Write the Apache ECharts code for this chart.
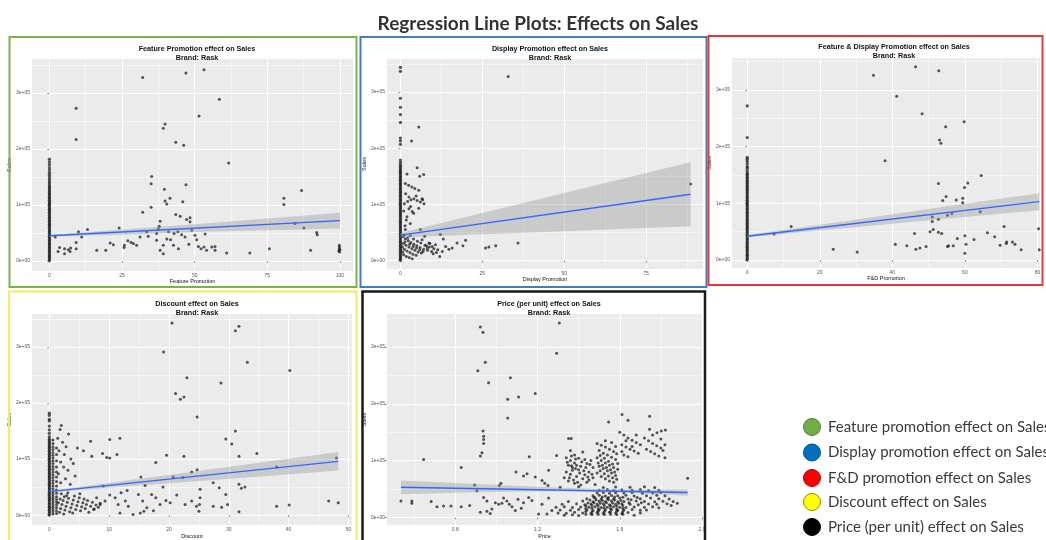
<!DOCTYPE html>
<html><head><meta charset="utf-8">
<script src="https://cdn.jsdelivr.net/npm/echarts/dist/echarts.min.js"></script>
<style>html,body{margin:0;padding:0;background:#fff}#c{width:1046px;height:540px}</style>
</head><body><div id="c"></div><script>
// ---------------- DATA ----------------
const mainTitle = 'Regression Line Plots: Effects on Sales';
const panelTitles = [
  'Feature Promotion effect on Sales\nBrand: Rask',
  'Display Promotion effect on Sales\nBrand: Rask',
  'Feature & Display Promotion effect on Sales\nBrand: Rask',
  'Discount effect on Sales\nBrand: Rask',
  'Price (per unit) effect on Sales\nBrand: Rask'
];
const xAxisNames = ['Feature Promotion', 'Display Promotion', 'F&D Promotion', 'Discount', 'Price'];
const yAxisName = 'Sales';
const legendLabels = ['Feature promotion effect on Sales', 'Display promotion effect on Sales', 'F&D promotion effect on Sales', 'Discount effect on Sales', 'Price (per unit) effect on Sales'];

const yTickValues = [0, 100000, 200000, 300000];
const yTickLabels = ['0e+00', '1e+05', '2e+05', '3e+05'];
const yMinorValues = [50000, 150000, 250000, 350000];

const featureTicks = [0, 25, 50, 75, 100];
const featureMinor = [12.5, 37.5, 62.5, 87.5];
const displayTicks = [0, 25, 50, 75];
const displayMinor = [12.5, 37.5, 62.5, 87.5];
const fdTicks = [0, 20, 40, 60, 80];
const fdMinor = [10, 30, 50, 70];
const discountTicks = [0, 10, 20, 30, 40, 50];
const discountMinor = [5, 15, 25, 35, 45];
const priceTicks = [0.8, 1.2, 1.6, 2.0];
const priceTickLabels = ['0.8', '1.2', '1.6', '2.0'];
const priceMinor = [0.6, 1.0, 1.4, 1.8];

// Feature promotion
const featureZeroSales = [1000,3500,6500,9000,11500,14500,17000,19500,22500,25000,28000,30500,33000,36000,38500,41000,44000,46500,49500,52000,54500,57500,60000,63000,65500,68000,71000,73500,76500,79000,81500,84500,87000,90000,92500,95000,98000,100500,103000,106000,108500,111500,114000,117000,119500,122000,125000,127500,130500,133000,136000,139500,143000,147000,151000,155000,158500,163000,167000,172000,177000,182000];
const featurePoints = [[9.2,273000],[9.2,217000],[32.1,328000],[47.0,336000],[53.2,342000],[58.5,289000],[51.5,259000],[39.8,245000],[39.2,237000],[43.5,212000],[46.2,207000],[61.7,175000],[35.2,151000],[35.0,138000],[47.0,136000],[39.6,128000],[41.5,112000],[39.8,107000],[40.4,102000],[45.9,106000],[32.1,87000],[35.0,96000],[43.5,83000],[45.0,80000],[48.4,77000],[48.4,70000],[38.1,71000],[37.8,62000],[47.2,74000],[80.7,112000],[80.7,101000],[86.8,126000],[2.0,43000],[10.0,52000],[13.1,56000],[24.0,59000],[11.1,43000],[20.9,32000],[16.3,19000],[19.4,19000],[5.2,22000],[5.2,13000],[6.5,20000],[7.1,17000],[7.3,23000],[9.2,33000],[9.2,22000],[25.8,28000],[25.7,24000],[28.1,33000],[28.9,31000],[30.0,28000],[31.2,43000],[33.5,52000],[36.9,37000],[36.9,49000],[37.5,57000],[38.1,19000],[39.2,13000],[39.2,28000],[40.4,39000],[41.0,52000],[41.7,38000],[42.7,28000],[42.9,49000],[44.2,52000],[44.4,22000],[46.7,43000],[49.0,55000],[50.1,46000],[50.7,38000],[51.3,26000],[52.2,22000],[53.2,25000],[54.1,19000],[53.6,48000],[55.9,25000],[57.0,19000],[57.0,26000],[61.0,14000],[69.0,14000],[75.7,22000],[84.5,67000],[87.6,59000],[89.9,19000],[92.0,51000],[92.2,47000],[99.8,28000],[99.8,25000],[99.8,22000],[99.6,18000],[99.9,16000],[100,20000],[3.5,24000],[3.0,17000],[27.0,36000],[22.0,29000],[34.0,44000],[48.0,30000],[45.5,47000]];
const featureFit = [[0,45000],[100,72000]];
const featureBand = [[0,43500,46500],[25,47000,56000],[50,51500,65500],[75,55000,76000],[100,58000,86000]];

// Display promotion
const displayZeroSales = [500,3000,5500,8500,11000,13500,16500,19000,21500,24500,27000,30000,32500,35000,38000,40500,43000,46000,48500,51500,54000,56500,59500,62000,65000,67500,70000,73000,75500,78500,81000,83500,86500,89000,92000,94500,97000,100000,102500,105500,108000,110500,113500,116000,119000,121500,124000,127000,129500,132500,135000,137500,140500,143000,146000,148500,151000,154000,156500,159000,162000,165000,168000,171000,175000,179000,207000,213000,218000,246000,260000,273000,289000,337000,344000];
const displayPoints = [[32.9,328000],[5.6,238000],[3.4,213000],[5.1,165000],[7.1,153000],[5.9,150000],[2.0,154000],[88.6,136000],[35.9,31000],[29.1,26000],[27.0,24000],[26.0,22000],[19.9,36000],[19.1,26000],[17.3,31000],[15.8,22000],[14.8,20000],[13.8,25000],[13.1,38000],[12.2,46000],[12.0,7000],[10.7,28000],[9.7,25000],[8.7,31000],[8.2,22000],[7.4,43000],[6.6,37000],[6.1,55000],
[1.5,137000],[2.5,134000],[3.5,131000],[4.4,128000],[5.6,125000],[1.6,119000],[2.6,113000],[4.1,110000],[5.1,107000],[6.6,110000],[6.1,104000],[3.1,96000],[3.6,87000],[2.0,78000],[3.0,66000],[1.5,55000],[1.2,101000],[2.2,105000],[3.2,108000],[4.8,115000],[6.8,108000],[7.2,101000],[1.0,88000],[1.8,72000],[2.6,92000],[4.0,84000],[1.4,62000],[5.6,93000],
[0.8,42000],[1.5,38000],[2.4,35000],[3.2,32000],[4.1,29000],[5.0,26000],[6.0,23000],[7.1,20000],[8.3,18000],[9.5,16000],[0.9,30000],[1.7,27000],[2.6,24000],[3.5,21000],[4.4,18000],[5.4,15000],[6.4,13000],[1.2,20000],[2.0,17000],[2.9,14000],[3.8,11000],[4.8,9000],[1.0,10000],[1.8,7000],[2.7,5000],[3.6,3000],[0.7,15000],[1.4,33000],[2.2,40000],[3.0,44000],[4.0,38000],[5.2,34000],[6.2,31000],[7.5,27000],[8.8,24000],[10.2,21000],[11.4,19000],[12.8,16000],[0.6,24000],[1.1,45000],[2.8,29000],[3.9,25000],[4.9,22000],[5.9,19000],[6.9,16000],[7.9,26000],[9.0,30000],[10.0,12000],[11.0,14000]];
const displayFit = [[0,45000],[88.6,118000]];
const displayBand = [[0,41000,49000],[25,46600,84600],[50,52200,120200],[75,57800,155800],[88.6,61000,175000]];

// Feature & Display promotion
const fdZeroSales = [500,3000,6000,8500,11000,14000,16500,19000,22000,24500,27500,30000,32500,35500,38000,41000,43500,46000,49000,51500,54500,57000,59500,62500,65000,68000,70500,73000,76000,78500,81500,84000,86500,89500,92000,95000,97500,100000,103000,105500,108500,111000,113500,116500,119000,122000,124500,127000,130000,132500,135500,138000,140500,143500,146000,149000,151500,154000,158000,162000,165000,169500,174000,178000,181000,216000,272000];
const fdPoints = [[34.8,326000],[46.4,341000],[52.8,334000],[41.2,289000],[48.2,258000],[59.8,244000],[54.7,235000],[53.0,212000],[53.4,206000],[38.0,175000],[64.5,149000],[52.7,135000],[60.8,136000],[59.9,128000],[54.8,112000],[53.9,105000],[57.6,106000],[59.4,109000],[59.4,101000],[64.2,85000],[56.4,82000],[55.2,79000],[51.0,76000],[51.0,68000],[52.7,72000],[12.1,59000],[7.4,46000],[23.7,19000],[30.3,14000],[40.8,28000],[44.0,25000],[46.1,47000],[46.5,19000],[47.6,21000],[49.3,24000],[50.4,50000],[51.3,54000],[52.7,49000],[53.6,47000],[55.2,24000],[55.5,25000],[56.8,25000],[57.9,38000],[60.0,43000],[60.3,28000],[60.0,12000],[62.5,36000],[66.2,48000],[68.2,41000],[69.7,26000],[70.8,59000],[71.4,29000],[71.5,32000],[73.1,32000],[73.8,28000],[75.5,18000],[80.3,55000],[80.5,18000]];
const fdFit = [[0,42000],[80.5,103000]];
const fdBand = [[0,40000,44000],[20,52000,62400],[40,63800,80800],[60,75800,99200],[80.5,88000,118000]];

// Discount
const discountZeroSales = [500,3000,6000,8500,11500,14000,16500,19500,22000,25000,27500,30000,33000,35500,38500,41000,43500,46500,49000,52000,54500,57000,60000,62500,65500,68000,70500,73500,76000,79000,81500,84000,87000,89500,92500,95000,97500,100500,103000,106000,108500,111000,114000,116500,119500,122000,124500,127500,130000,133000,135500,140000,146000,152000,159000,168000,171000,178000,182000];
const discountPoints = [[0.6,2000],[0.6,6000],[0.6,10000],[0.6,14000],[0.6,18000],[0.6,22000],[0.6,26000],[0.6,30000],[0.6,34000],[0.6,38000],[0.6,42000],[0.6,47000],[0.6,52000],[0.6,57000],[0.6,62000],[0.6,67000],[0.6,72000],[0.6,77000],[0.6,82000],[0.6,87000],[0.6,92000],[0.6,97000],[0.6,102000],[0.6,107000],[0.6,112000],[0.6,117000],[0.6,122000],[0.6,128000],[0.6,134000],
[1.2,3000],[1.2,8000],[1.2,13000],[1.2,18000],[1.2,23000],[1.2,28000],[1.2,33000],[1.2,39000],[1.2,45000],[1.2,52000],[1.2,60000],[1.2,68000],[1.2,77000],[1.2,86000],[1.2,97000],[1.2,108000],[1.2,120000],
[1.8,153000],[3.2,145000],[2.2,130000],[2.8,122000],[1.6,115000],[2.5,108000],[3.6,100000],[1.9,95000],[4.0,92000],[2.4,86000],[3.1,80000],[1.5,74000],[4.3,70000],[2.7,65000],[1.9,58000],[3.5,55000],[1.4,137000],[2.0,160000],
[1.7,5000],[1.9,12000],[2.1,19000],[2.3,26000],[2.5,33000],[2.0,38000],[2.6,9000],[2.8,16000],[3.0,23000],[3.2,30000],[3.4,6000],[3.6,13000],[3.8,20000],[4.0,27000],[4.2,34000],[4.4,10000],[4.6,17000],[4.8,24000],[5.0,31000],[5.2,8000],[5.4,15000],[5.6,22000],[5.8,29000],[6.0,12000],[6.2,19000],[6.4,26000],[6.6,5000],[6.9,16000],[7.2,23000],[7.5,11000],[7.8,18000],[8.2,14000],[8.5,21000],[1.8,29000],[2.4,2000],[3.1,40000],[3.9,4000],[5.1,38000],[1.5,22000],[2.9,35000],
[20.5,343000],[31.1,329000],[31.7,337000],[19.1,291000],[33.1,273000],[40.2,258000],[23.0,245000],[28.7,236000],[21.1,217000],[21.9,207000],[22.5,211000],[24.7,175000],[31.1,150000],[29.5,136000],[30.5,127000],[34.7,110000],[31.7,105000],[22.5,105000],[19.6,107000],[17.8,94000],[24.7,81000],[23.8,77000],[15.3,68000],[11.8,137000],[10.1,135000],[6.9,132000],[11.3,108000],[9.6,103000],[10.1,102000],[8.9,110000],[7.1,105000],[4.7,120000],[5.7,115000],[20.7,68000],[22.3,67000],[27.4,58000],[28.4,49000],[29.5,37000],[31.7,55000],[32.1,48000],[32.7,50000],[25.2,46000],[19.0,50000],[38.0,86000],[48.0,102000],[38.0,16000],[40.1,18000],[46.7,25000],[48.3,22000],[31.7,6000],[29.8,19000],[28.8,14000],[27.4,16000],[25.2,31000],[25.1,19000],[25.0,7000],[24.6,16000],[22.7,19000],[23.8,25000],[21.3,36000],[20.2,22000],[19.5,26000],[18.5,19000],[17.8,31000],[17.1,37000],[16.3,13000],[15.6,25000],[14.9,37000],[14.0,1000],[13.2,16000],[12.7,25000],[11.8,4000],[11.5,19000],[11.0,31000],[10.1,36000],[9.3,25000],[8.5,19000],[7.9,31000],[7.4,10000],[15.2,4000],[15.8,7000],[17.4,8000],[13.0,44000],[16.0,53000],[9.0,52000],[12.0,40000]];
const discountFit = [[0,42000],[48.3,96000]];
const discountBand = [[0,41000,43000],[12,50500,60300],[24,60100,77500],[36,69600,94800],[48.3,79500,112500]];

// Price (per unit)
const pricePoints = [[0.536,29000],[0.589,29000],[0.589,25000],[0.646,102000],[0.683,28000],[0.711,19000],[0.743,20000],[0.779,20000],[0.829,19000],[0.870,21000],[0.829,88000],[0.922,335000],[0.935,326000],[0.946,273000],[0.910,258000],[0.962,237000],[1.068,246000],[1.108,212000],[1.055,208000],[1.189,218000],[1.055,175000],[0.935,152000],[0.938,143000],[0.938,137000],[0.938,130000],[0.930,114000],[0.922,108000],[1.306,342000],[1.293,289000],[1.293,109000],[1.160,107000],[1.095,80000],[1.132,73000],[1.149,77000],[1.189,71000],[1.222,65000],[1.235,60000],[1.251,56000],[1.254,83000],[1.022,60000],[1.014,56000],[0.894,57000],[1.351,139000],[1.364,139000],[1.930,69000],[1.611,181000],[1.640,171000],[1.745,178000],[1.745,155000],[1.546,168000],[1.822,154000],[1.802,152000],[1.781,149000],
[0.905,47000],[0.938,35000],[0.954,29000],[0.995,26000],[1.027,25000],[1.063,23000],[1.076,19000],[1.092,12000],[1.121,16000],[1.157,35000],[1.173,30000],[1.205,6000],[1.246,6000],[1.270,12000],[0.922,9000],[0.954,11000],[0.970,7000],[0.978,15000],[1.011,23000],[1.035,34000],[1.051,29000],[1.105,32000],[1.132,26000],[1.222,23000],[1.254,34000],
[1.34,105000],[1.36,100000],[1.38,96000],[1.35,92000],[1.37,88000],[1.40,84000],[1.34,80000],[1.36,76000],[1.39,72000],[1.42,68000],[1.35,64000],[1.38,60000],[1.41,57000],[1.44,62000],[1.43,75000],[1.45,80000],[1.41,90000],[1.44,95000],[1.47,88000],[1.46,100000],[1.40,104000],[1.38,110000],[1.42,115000],[1.36,118000],[1.47,70000],[1.45,66000],[1.48,58000],[1.33,70000],[1.37,83000],[1.43,102000],[1.39,92000],
[1.345,97000],[1.365,91000],[1.385,86000],[1.405,78000],[1.425,82000],[1.445,71000],[1.355,70000],[1.375,66000],[1.395,62000],[1.415,98000],[1.435,88000],[1.455,93000],[1.465,76000],[1.385,103000],[1.365,108000],
[1.49,130000],[1.51,127000],[1.53,124000],[1.55,120000],[1.57,116000],[1.50,118000],[1.52,113000],[1.54,110000],[1.56,106000],[1.58,102000],[1.49,105000],[1.51,100000],[1.53,96000],[1.55,92000],[1.57,88000],[1.59,85000],[1.50,90000],[1.52,86000],[1.54,82000],[1.56,78000],[1.58,74000],[1.49,78000],[1.51,72000],[1.53,68000],[1.55,64000],[1.57,62000],[1.59,95000],[1.56,132000],[1.53,135000],[1.58,125000],
[1.505,109000],[1.525,104000],[1.545,99000],[1.565,94000],[1.585,112000],[1.495,96000],[1.515,92000],[1.535,88000],[1.555,84000],[1.575,80000],[1.505,82000],[1.525,77000],[1.545,73000],[1.565,70000],[1.585,67000],
[1.60,150000],[1.62,145000],[1.64,140000],[1.66,136000],[1.68,132000],[1.61,128000],[1.63,124000],[1.65,120000],[1.67,117000],[1.69,113000],[1.62,110000],[1.64,107000],[1.66,125000],[1.70,128000],[1.63,135000],[1.61,116000],[1.68,145000],
[1.72,140000],[1.74,135000],[1.76,130000],[1.78,126000],[1.80,122000],[1.73,120000],[1.75,116000],[1.77,112000],[1.79,108000],[1.81,118000],[1.82,105000],[1.82,128000],[1.76,145000],[1.80,138000],
[1.30,8000],[1.34,7500],[1.38,9000],[1.42,8000],[1.46,7000],[1.49,8500],[1.52,7500],[1.55,9000],[1.58,8000],[1.61,7000],[1.64,8500],
[1.31,13000],[1.36,12500],[1.40,14000],[1.44,13000],[1.47,12000],[1.50,13500],[1.53,13000],[1.56,14000],[1.59,12500],[1.62,13000],[1.66,14000],[1.70,12500],
[1.29,18000],[1.33,19000],[1.37,17500],[1.41,18500],[1.45,18000],[1.48,19000],[1.51,17500],[1.54,18000],[1.57,19000],[1.60,18000],[1.63,17500],[1.67,18500],[1.72,18000],[1.76,19000],
[1.32,23000],[1.39,24000],[1.43,22500],[1.46,23500],[1.49,23000],[1.52,24000],[1.55,22500],[1.58,23000],[1.61,24000],[1.65,23000],[1.69,22500],[1.74,23500],[1.78,23000],[1.83,24000],
[1.35,28000],[1.42,29000],[1.47,27500],[1.50,28500],[1.53,28000],[1.56,29000],[1.59,27500],[1.62,28000],[1.68,29000],[1.72,28000],[1.77,27500],[1.81,28500],[1.86,28000],
[1.44,33000],[1.48,34000],[1.51,32500],[1.54,33500],[1.57,33000],[1.60,34000],[1.64,32500],[1.70,33000],[1.75,34000],[1.79,33000],[1.84,32500],
[1.47,38000],[1.50,39000],[1.53,37500],[1.56,38500],[1.59,38000],[1.63,39000],[1.67,37500],[1.73,38000],[1.78,39000],[1.82,38000],
[1.49,43000],[1.52,44000],[1.55,42500],[1.58,43500],[1.62,43000],[1.66,44000],[1.71,42500],[1.76,43000],[1.80,44000],
[1.50,48000],[1.54,49000],[1.57,47500],[1.61,48500],[1.66,48000],[1.70,49000],[1.74,47500],[1.79,48000],
[1.31,53000],[1.40,54000],[1.52,52500],[1.58,53500],[1.65,53000],[1.72,54000],[1.77,52500],
[1.435,5500],[1.465,5000],[1.495,5500],[1.525,5000],[1.555,5500],[1.585,5000],[1.615,5500],
[1.435,10500],[1.465,10000],[1.495,11000],[1.525,10500],[1.555,10000],[1.585,11000],[1.615,10500],
[1.435,15500],[1.465,16000],[1.495,15000],[1.525,16000],[1.555,15500],[1.585,15000],[1.615,16000],
[1.435,20500],[1.465,21000],[1.495,20000],[1.525,21000],[1.555,20500],[1.585,20000],[1.615,21000],
[1.445,25500],[1.475,26000],[1.505,25000],[1.535,26000],[1.565,25500],[1.595,25000],[1.645,26000],
[1.455,30500],[1.485,31000],[1.515,30000],[1.545,31000],[1.575,30500],[1.605,30000],[1.655,31000],
[1.475,35500],[1.515,36000],[1.545,35000],[1.575,36000],[1.615,35500],[1.685,35000],[1.705,26000],
[1.33,4000],[1.37,4500],[1.40,3500],[1.67,4000],[1.70,8000],[1.73,13000],[1.79,17000],[1.85,21000],[1.88,25000]];
const priceFit = [[0.536,53000],[1.93,44000]];
const priceBand = [[0.536,41000,65000],[0.9,44500,59000],[1.2,46000,54000],[1.45,46000,50500],[1.7,42500,49000],[1.93,38000,49000]];

// ---------------- LAYOUT / STYLE ----------------
const panels = [
  {grid:{left:32,top:59,width:321,height:212}, x:[-6,104.5], y:[-18000,361000], ticks:featureTicks, tickLabels:null, minor:featureMinor, zero:featureZeroSales, pts:featurePoints, fit:featureFit, band:featureBand, tx:192, ty:39.5},
  {grid:{left:387,top:59,width:316,height:210}, x:[-4.1,92.4], y:[-15300,359000], ticks:displayTicks, tickLabels:null, minor:displayMinor, zero:displayZeroSales, pts:displayPoints, fit:displayFit, band:displayBand, tx:545, ty:39.5},
  {grid:{left:732,top:58,width:308,height:210}, x:[-4.2,80.7], y:[-14100,356500], ticks:fdTicks, tickLabels:null, minor:fdMinor, zero:fdZeroSales, pts:fdPoints, fit:fdFit, band:fdBand, tx:889, ty:37.5},
  {grid:{left:32,top:314,width:320,height:212}, x:[-2.9,50.6], y:[-17800,359000], ticks:discountTicks, tickLabels:null, minor:discountMinor, zero:discountZeroSales, pts:discountPoints, fit:discountFit, band:discountBand, tx:192, ty:294.5},
  {grid:{left:387,top:314,width:315,height:212}, x:[0.468,2.0], y:[-13500,358000], ticks:priceTicks, tickLabels:priceTickLabels, minor:priceMinor, zero:null, pts:pricePoints, fit:priceFit, band:priceBand, tx:544, ty:294.5}
];
const borders = [
  {x:9.5,y:37,w:347,h:250,c:'#7DB24A',lw:2},
  {x:360.5,y:37,w:346,h:250,c:'#3F7FBF',lw:2},
  {x:708.5,y:36,w:334,h:249,c:'#E8363C',lw:2},
  {x:9,y:291.5,w:347.5,h:252,c:'#F3EE55',lw:2},
  {x:362.5,y:291.5,w:342.5,h:252,c:'#1A1A1A',lw:2.5}
];
const legendFill = ['#70AD47','#0070C0','#FF0000','#FFFF00','#000000'];
const legendStroke = ['#507E32','#00508A','#B00000','#8A8A00','#000000'];
const legendY = [427, 452.5, 478, 502, 527];

const font = 'Liberation Sans';
const grids = [], xAxes = [], yAxes = [], series = [], titles = [];
titles.push({text: mainTitle, left: 533, top: 9, textAlign: 'center',
  textStyle: {fontFamily: 'Lato', fontWeight: 'bold', fontSize: 19, color: '#333'}});

panels.forEach((p, i) => {
  grids.push(Object.assign({show: true, backgroundColor: '#EBEBEB', borderWidth: 0, containLabel: false}, p.grid));
  const xi = xAxes.length, yi = yAxes.length;
  const xl = p.tickLabels;
  xAxes.push({type:'value', gridIndex:i, min:p.x[0], max:p.x[1], position:'bottom',
    name: xAxisNames[i], nameLocation:'middle', nameGap: 7,
    nameTextStyle:{fontFamily:font, fontSize:5.5, color:'#111'},
    axisLine:{show:false},
    axisTick:{show:true, length:2, lineStyle:{color:'#444', width:0.6}, customValues:p.ticks},
    axisLabel:{show:true, fontFamily:font, fontSize:5, color:'#555', margin:2, customValues:p.ticks,
      formatter: v => { const k = p.ticks.indexOf(v); return (xl && k >= 0) ? xl[k] : String(v); }},
    splitLine:{show:true, lineStyle:{color:'#ffffff', width:1}}
  });
  xAxes.push({type:'value', gridIndex:i, min:p.x[0], max:p.x[1], position:'top',
    axisLine:{show:false}, axisLabel:{show:false},
    axisTick:{show:false, customValues:p.minor},
    splitLine:{show:true, lineStyle:{color:'#ffffff', width:0.5}}
  });
  yAxes.push({type:'value', gridIndex:i, min:p.y[0], max:p.y[1], position:'left',
    name: yAxisName, nameLocation:'middle', nameGap: 15, nameRotate: 90,
    nameTextStyle:{fontFamily:font, fontSize:5.5, color:'#111'},
    axisLine:{show:false},
    axisTick:{show:true, length:2, lineStyle:{color:'#444', width:0.6}, customValues:yTickValues},
    axisLabel:{show:true, fontFamily:font, fontSize:5, color:'#555', margin:2, customValues:yTickValues,
      formatter: v => { const k = yTickValues.indexOf(v); return k >= 0 ? yTickLabels[k] : String(v); }},
    splitLine:{show:true, lineStyle:{color:'#ffffff', width:1}}
  });
  yAxes.push({type:'value', gridIndex:i, min:p.y[0], max:p.y[1], position:'right',
    axisLine:{show:false}, axisLabel:{show:false},
    axisTick:{show:false, customValues:yMinorValues},
    splitLine:{show:true, lineStyle:{color:'#ffffff', width:0.5}}
  });
  const pointStyle = {color:'rgba(22,22,22,0.9)'};
  if (p.zero) {
    series.push({type:'scatter', xAxisIndex:xi, yAxisIndex:yi, symbol:'circle', symbolSize:3.2,
      itemStyle:pointStyle, data:p.zero.map(v => [0, v]), z:2, silent:true});
  }
  series.push({type:'scatter', xAxisIndex:xi, yAxisIndex:yi, symbol:'circle', symbolSize:3,
    itemStyle:pointStyle, data:p.pts, z:2, silent:true});
  series.push({type:'custom', xAxisIndex:xi, yAxisIndex:yi, clip:true, z:3, silent:true,
    encode:{x:0, y:[1,2]}, data:p.band,
    renderItem:(params, api) => {
      if (params.dataIndex !== 0) return null;
      const up = p.band.map(d => api.coord([d[0], d[2]]));
      const lo = p.band.slice().reverse().map(d => api.coord([d[0], d[1]]));
      return {type:'polygon', shape:{points: up.concat(lo)}, style:{fill:'rgba(153,153,153,0.4)'}};
    }});
  series.push({type:'line', xAxisIndex:xi, yAxisIndex:yi, data:p.fit, symbol:'none', z:4, silent:true,
    lineStyle:{color:'#3366FF', width:1.4}});
  titles.push({text: panelTitles[i], left: p.tx, top: p.ty, textAlign:'center',
    textStyle:{fontFamily:font, fontWeight:'bold', fontSize:7.2, lineHeight:9, color:'#111'}});
});

const graphics = [];
borders.forEach(b => graphics.push({type:'rect', shape:{x:b.x, y:b.y, width:b.w, height:b.h},
  style:{fill:'none', stroke:b.c, lineWidth:b.lw}, z:100, silent:true}));
legendLabels.forEach((t, i) => {
  graphics.push({type:'circle', shape:{cx:812, cy:legendY[i], r:8.5},
    style:{fill:legendFill[i], stroke:legendStroke[i], lineWidth:1}, z:100, silent:true});
  graphics.push({type:'text', x:828, y:legendY[i], style:{text:t, fill:'#3a3a3a', font:'15px Lato',
    textAlign:'left', textVerticalAlign:'middle', verticalAlign:'middle'}, z:100, silent:true});
});

const chart = echarts.init(document.getElementById('c'), null, {renderer:'canvas'});
chart.setOption({
  animation:false,
  backgroundColor:'#ffffff',
  title: titles,
  grid: grids,
  xAxis: xAxes,
  yAxis: yAxes,
  series: series,
  graphic: {elements: graphics}
});
</script></body></html>
